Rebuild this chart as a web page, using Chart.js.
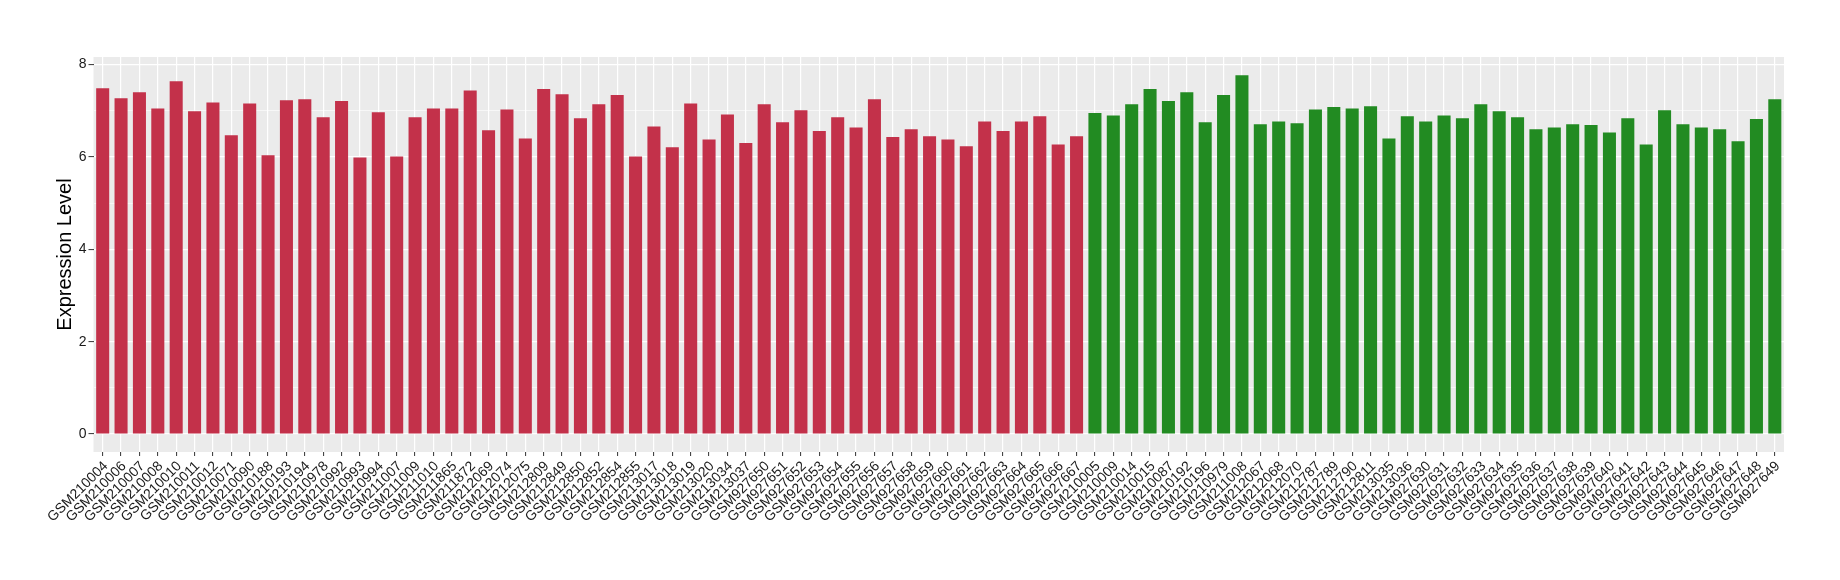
<!DOCTYPE html>
<html>
<head>
<meta charset="utf-8">
<script src="https://cdn.jsdelivr.net/npm/chart.js@4/dist/chart.umd.min.js"></script>
<style>
  html, body { margin: 0; padding: 0; background: #fff; }
  #wrap { width: 1840px; height: 580px; position: relative; }
</style>
</head>
<body>
<div id="wrap"><canvas id="expressionChart" width="1840" height="580"></canvas></div>
<script>
// amostras do primeiro grupo (vermelho)
const redSamples = [
  'GSM210004', 'GSM210006', 'GSM210007', 'GSM210008', 'GSM210010', 'GSM210011',
  'GSM210012', 'GSM210071', 'GSM210090', 'GSM210188', 'GSM210193', 'GSM210194',
  'GSM210978', 'GSM210992', 'GSM210993', 'GSM210994', 'GSM211007', 'GSM211009',
  'GSM211010', 'GSM211865', 'GSM211872', 'GSM212069', 'GSM212074', 'GSM212075',
  'GSM212809', 'GSM212849', 'GSM212850', 'GSM212852', 'GSM212854', 'GSM212855',
  'GSM213017', 'GSM213018', 'GSM213019', 'GSM213020', 'GSM213034', 'GSM213037',
  'GSM927650', 'GSM927651', 'GSM927652', 'GSM927653', 'GSM927654', 'GSM927655',
  'GSM927656', 'GSM927657', 'GSM927658', 'GSM927659', 'GSM927660', 'GSM927661',
  'GSM927662', 'GSM927663', 'GSM927664', 'GSM927665', 'GSM927666', 'GSM927667'
];
const redValues = [
  7.49, 7.27, 7.40, 7.05, 7.64, 6.99, 7.18, 6.47, 7.16, 6.04, 7.23, 7.25,
  6.86, 7.21, 5.99, 6.97, 6.01, 6.86, 7.05, 7.05, 7.44, 6.58, 7.03, 6.40,
  7.47, 7.36, 6.84, 7.14, 7.34, 6.01, 6.66, 6.21, 7.16, 6.38, 6.92, 6.30,
  7.14, 6.75, 7.01, 6.56, 6.86, 6.64, 7.25, 6.43, 6.60, 6.45, 6.38, 6.23,
  6.77, 6.56, 6.77, 6.88, 6.27, 6.45
];

// amostras do segundo grupo (verde)
const greenSamples = [
  'GSM210005', 'GSM210009', 'GSM210014', 'GSM210015', 'GSM210087', 'GSM210192',
  'GSM210196', 'GSM210979', 'GSM211008', 'GSM212067', 'GSM212068', 'GSM212070',
  'GSM212787', 'GSM212789', 'GSM212790', 'GSM212811', 'GSM213035', 'GSM213036',
  'GSM927630', 'GSM927631', 'GSM927632', 'GSM927633', 'GSM927634', 'GSM927635',
  'GSM927636', 'GSM927637', 'GSM927638', 'GSM927639', 'GSM927640', 'GSM927641',
  'GSM927642', 'GSM927643', 'GSM927644', 'GSM927645', 'GSM927646', 'GSM927647',
  'GSM927648', 'GSM927649'
];
const greenValues = [
  6.95, 6.90, 7.14, 7.47, 7.21, 7.40, 6.75, 7.34, 7.77, 6.71, 6.77, 6.73,
  7.03, 7.08, 7.05, 7.10, 6.40, 6.88, 6.77, 6.90, 6.84, 7.14, 6.99, 6.86,
  6.60, 6.64, 6.71, 6.69, 6.53, 6.84, 6.27, 7.01, 6.71, 6.64, 6.60, 6.34,
  6.82, 7.25
];

const yTicks = [0, 1, 2, 3, 4, 5, 6, 7, 8];

const RED = '#C3314A';
const GREEN = '#228B22';

const labels = redSamples.concat(greenSamples);
const values = redValues.concat(greenValues);
const colors = redSamples.map(() => RED).concat(greenSamples.map(() => GREEN));

// fundo cinza do painel (estilo ggplot)
const panelBackground = {
  id: 'panelBackground',
  beforeDraw: (chart) => {
    const { ctx, chartArea } = chart;
    ctx.save();
    ctx.fillStyle = '#ffffff';
    ctx.fillRect(0, 0, chart.width, chart.height);
    ctx.fillStyle = '#EBEBEB';
    ctx.fillRect(chartArea.left, chartArea.top,
      chartArea.right - chartArea.left, chartArea.bottom - chartArea.top);
    ctx.restore();
  }
};

const ctx = document.getElementById('expressionChart').getContext('2d');
window.expressionChart = new Chart(ctx, {
  type: 'bar',
  data: {
    labels: labels,
    datasets: [{
      data: values,
      backgroundColor: colors,
      borderWidth: 0,
      categoryPercentage: 1.0,
      barPercentage: 0.71
    }]
  },
  options: {
    responsive: false,
    animation: false,
    devicePixelRatio: 1,
    layout: {
      padding: { top: 57, right: 56, bottom: 0, left: 0 }
    },
    plugins: {
      legend: { display: false },
      tooltip: { enabled: false }
    },
    scales: {
      x: {
        offset: true,
        grid: {
          offset: false,
          color: '#ffffff',
          lineWidth: 1.2,
          drawTicks: true,
          tickLength: 4,
          tickColor: '#333333',
          tickWidth: 1
        },
        border: { display: false },
        ticks: {
          autoSkip: false,
          maxRotation: 45,
          minRotation: 45,
          padding: 2,
          labelOffset: 3,
          color: '#1a1a1a',
          font: { family: 'Liberation Sans, Arial, sans-serif', size: 14 }
        },
        afterFit: (scale) => { scale.height = 128; }
      },
      y: {
        min: -0.389,
        max: 8.165,
        afterBuildTicks: (scale) => {
          scale.ticks = yTicks.map(v => ({ value: v }));
        },
        grid: {
          color: '#ffffff',
          lineWidth: (c) => (c.tick && c.tick.value % 2 !== 0) ? 0.6 : 1.2,
          drawTicks: true,
          tickLength: 5,
          tickColor: (c) => (c.tick && c.tick.value % 2 !== 0) ? 'rgba(0,0,0,0)' : '#333333',
          tickWidth: 1
        },
        border: { display: false },
        ticks: {
          padding: 2,
          color: '#1a1a1a',
          font: { family: 'Liberation Sans, Arial, sans-serif', size: 14 },
          callback: (v) => (v % 2 === 0 ? String(v) : '')
        },
        title: {
          display: true,
          text: 'Expression Level',
          color: '#000000',
          font: { family: 'Liberation Sans, Arial, sans-serif', size: 20 },
          padding: { top: 53, bottom: 0 }
        },
        afterFit: (scale) => { scale.width = 93.5; }
      }
    }
  },
  plugins: [panelBackground]
});
</script>
</body>
</html>
